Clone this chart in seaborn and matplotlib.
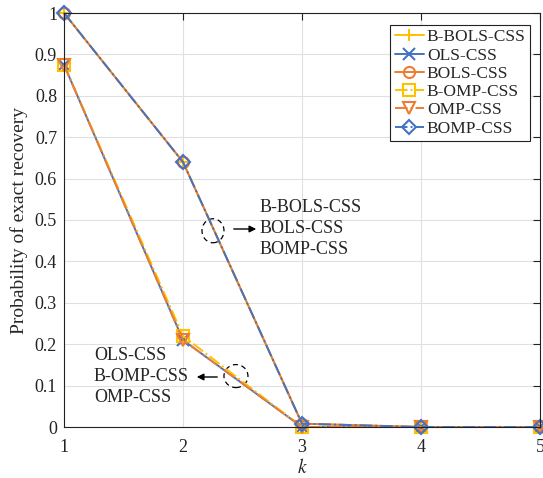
import matplotlib
matplotlib.use("Agg")
import matplotlib.pyplot as plt
import seaborn as sns
import pandas as pd
from matplotlib.patches import Ellipse

k = [1, 2, 3, 4, 5]
b_bols = [1.0, 0.64, 0.008, 0.0, 0.0]
ols = [0.875, 0.21, 0.0, 0.0, 0.0]
bols = [1.0, 0.64, 0.008, 0.0, 0.0]
b_omp = [0.875, 0.22, 0.0, 0.0, 0.0]
omp = [0.875, 0.21, 0.0, 0.0, 0.0]
bomp = [1.0, 0.64, 0.008, 0.0, 0.0]
names = ["B-BOLS-CSS", "OLS-CSS", "BOLS-CSS", "B-OMP-CSS", "OMP-CSS", "BOMP-CSS"]
series = [b_bols, ols, bols, b_omp, omp, bomp]
yticks = [0, 0.1, 0.2, 0.3, 0.4, 0.5, 0.6, 0.7, 0.8, 0.9, 1]
ytick_labels = ["0", "0.1", "0.2", "0.3", "0.4", "0.5", "0.6", "0.7", "0.8", "0.9", "1"]

sns.set_style("white")
plt.rcParams['font.family'] = ['Liberation Serif', 'DejaVu Serif']
plt.rcParams['mathtext.fontset'] = 'stix'

YEL = "#FFC000"
BLU = "#4472C4"
ORA = "#ED7D31"
colors = [YEL, BLU, ORA, YEL, ORA, BLU]
markers = ["+", "x", "o", "s", "v", "D"]
dashes = ["-", "-", "-", "-.", "-.", "-."]

fig = plt.figure(figsize=(5.43, 4.78), dpi=100)
ax = fig.add_axes([64/543, 51/478, 476/543, 414/478])

for name, vals, c, m, ls in zip(names, series, colors, markers, dashes):
    df = pd.DataFrame({"k": k, "p": vals})
    filled = m in ("+", "x")
    sns.lineplot(data=df, x="k", y="p", ax=ax, color=c, linestyle=ls, linewidth=1.4,
                 marker=m, markersize=8 if m != "D" else 7,
                 markerfacecolor=c if filled else "none",
                 markeredgecolor=c, markeredgewidth=1.5, label=name, clip_on=False)

ax.set_xlim(1, 5)
ax.set_ylim(0, 1)
ax.set_xticks(k)
ax.set_xticklabels([str(v) for v in k])
ax.set_yticks(yticks)
ax.set_yticklabels(ytick_labels)
ax.grid(True, color="#e0e0e0", linewidth=0.8)
ax.tick_params(direction="in", top=True, right=True, labelsize=13, length=5, colors="#222222")
ax.tick_params(axis="x", pad=9)
ax.tick_params(axis="y", pad=5)
for s in ax.spines.values():
    s.set_color("#222222")
    s.set_linewidth(0.8)
ax.set_xlabel("$k$", fontsize=14, labelpad=1)
ax.set_ylabel("Probability of exact recovery", fontsize=14, labelpad=5)

leg = ax.legend(loc="upper right", bbox_to_anchor=(0.979, 0.971), fontsize=12.5, frameon=True,
                fancybox=False, edgecolor="#222222", framealpha=1, handlelength=1.7,
                handletextpad=0.15, borderpad=0.25, labelspacing=0.12, borderaxespad=0)
leg.get_frame().set_linewidth(0.8)

# annotations
ax.add_patch(Ellipse((2.252, 0.474), 22/119, 24/414, fill=False, linestyle=(0, (4, 3)),
                     edgecolor="black", linewidth=0.9))
ax.annotate("", xy=(1 + (259-64)/119, (427-229)/414), xytext=(1 + (231-64)/119, (427-229)/414),
            arrowprops=dict(arrowstyle="-|>", color="black", lw=1, mutation_scale=10))
for i, t in enumerate(["B-BOLS-CSS", "BOLS-CSS", "BOMP-CSS"]):
    ax.text(1 + (260-64)/119, (427-(207 + 21.5*i))/414, t, fontsize=13, va="center", ha="left")

ax.add_patch(Ellipse((2.445, 0.123), 24/119, 23/414, fill=False, linestyle=(0, (4, 3)),
                     edgecolor="black", linewidth=0.9))
ax.annotate("", xy=(1 + (194-64)/119, (427-377)/414), xytext=(1 + (220-64)/119, (427-377)/414),
            arrowprops=dict(arrowstyle="-|>", color="black", lw=1, mutation_scale=10))
for i, t in enumerate(["OLS-CSS", "B-OMP-CSS", "OMP-CSS"]):
    ax.text(1 + (94-64)/119, (427-(355 + 21.5*i))/414, t, fontsize=13, va="center", ha="left")

fig.savefig("out.png", dpi=100)
